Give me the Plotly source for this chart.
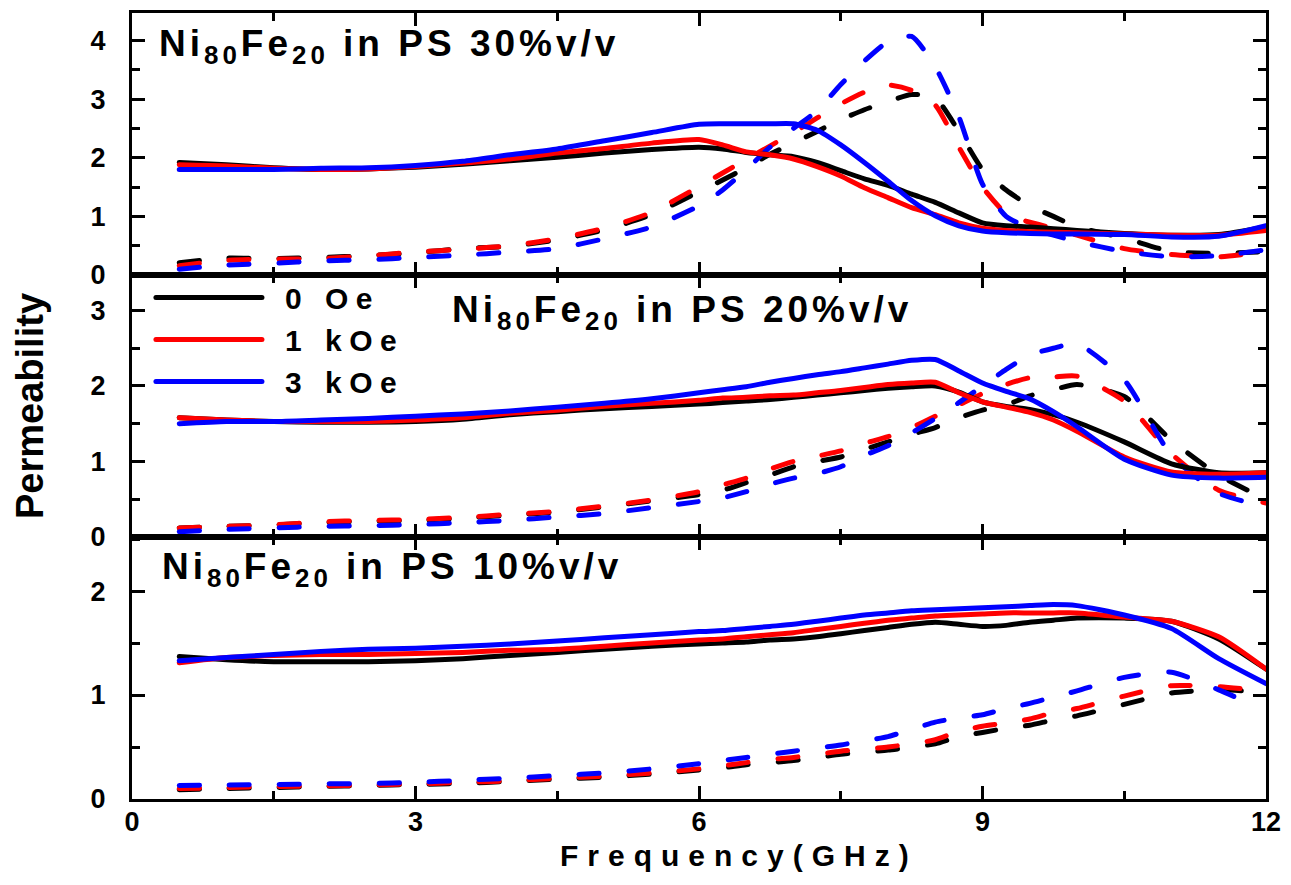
import plotly.graph_objects as go
from plotly.subplots import make_subplots

# ---------------- data ----------------
freq = [0.5, 1, 1.5, 2, 2.5, 3, 3.5, 4, 4.5, 5, 5.5, 6,
        6.25, 6.5, 6.75, 7, 7.25, 7.5, 7.75, 8, 8.25, 8.5, 8.75, 9,
        9.25, 9.5, 9.75, 10, 10.5, 11, 11.5, 12]
freq_10_imag = freq[:-1] + [11.75]

fields = ["0 Oe", "1 kOe", "3 kOe"]
field_colors = ["#000000", "#ff0000", "#0000ff"]

# Ni80Fe20 in PS 30 %v/v
re30_0 = [1.92, 1.88, 1.83, 1.80, 1.81, 1.84, 1.89, 1.95, 2.01, 2.08, 2.14, 2.18,
          2.15, 2.09, 2.05, 2.02, 1.92, 1.78, 1.64, 1.53, 1.38, 1.24, 1.06, 0.89,
          0.84, 0.82, 0.79, 0.76, 0.71, 0.68, 0.69, 0.82]
re30_1 = [1.88, 1.86, 1.82, 1.80, 1.81, 1.85, 1.91, 1.98, 2.08, 2.16, 2.25, 2.31,
          2.22, 2.10, 2.05, 1.98, 1.85, 1.69, 1.49, 1.32, 1.15, 1.03, 0.89, 0.80,
          0.76, 0.74, 0.73, 0.72, 0.70, 0.68, 0.68, 0.76]
re30_3 = [1.80, 1.80, 1.80, 1.82, 1.83, 1.87, 1.94, 2.05, 2.15, 2.29, 2.43, 2.57,
          2.58, 2.58, 2.58, 2.58, 2.47, 2.22, 1.92, 1.60, 1.27, 1.01, 0.84, 0.75,
          0.72, 0.71, 0.70, 0.70, 0.69, 0.65, 0.66, 0.84]
im30_0 = [0.21, 0.29, 0.28, 0.30, 0.33, 0.38, 0.45, 0.49, 0.60, 0.77, 1.03, 1.42,
          1.62, 1.83, 2.06, 2.25, 2.45, 2.65, 2.82, 2.96, 3.08, 3.02, 2.45, 1.80,
          1.45, 1.18, 1.00, 0.82, 0.63, 0.40, 0.37, 0.40]
im30_1 = [0.16, 0.25, 0.27, 0.28, 0.33, 0.39, 0.44, 0.50, 0.62, 0.80, 1.07, 1.51,
          1.74, 1.97, 2.20, 2.43, 2.68, 2.92, 3.12, 3.24, 3.15, 2.90, 2.18, 1.50,
          1.05, 0.90, 0.80, 0.68, 0.45, 0.35, 0.31, 0.40]
im30_3 = [0.10, 0.17, 0.20, 0.24, 0.26, 0.30, 0.34, 0.39, 0.45, 0.62, 0.82, 1.18,
          1.45, 1.80, 2.18, 2.50, 2.80, 3.25, 3.65, 3.98, 4.07, 3.55, 2.70, 1.55,
          1.00, 0.80, 0.68, 0.57, 0.40, 0.31, 0.33, 0.43]

# Ni80Fe20 in PS 20 %v/v
re20_0 = [1.58, 1.55, 1.53, 1.52, 1.52, 1.53, 1.56, 1.62, 1.66, 1.70, 1.73, 1.76,
          1.78, 1.80, 1.82, 1.85, 1.88, 1.91, 1.94, 1.97, 1.99, 2.00, 1.92, 1.79,
          1.73, 1.69, 1.62, 1.52, 1.26, 0.97, 0.85, 0.85]
re20_1 = [1.58, 1.55, 1.53, 1.53, 1.53, 1.55, 1.58, 1.64, 1.68, 1.73, 1.77, 1.81,
          1.84, 1.85, 1.87, 1.88, 1.91, 1.94, 1.98, 2.02, 2.04, 2.05, 1.91, 1.79,
          1.72, 1.65, 1.55, 1.40, 1.06, 0.86, 0.83, 0.85]
re20_3 = [1.50, 1.53, 1.53, 1.55, 1.57, 1.60, 1.63, 1.67, 1.72, 1.77, 1.83, 1.91,
          1.95, 1.99, 2.05, 2.10, 2.15, 2.19, 2.24, 2.29, 2.34, 2.35, 2.20, 2.04,
          1.93, 1.83, 1.66, 1.46, 1.03, 0.82, 0.78, 0.79]
im20_0 = [0.12, 0.14, 0.16, 0.19, 0.21, 0.22, 0.25, 0.29, 0.33, 0.40, 0.48, 0.56,
          0.62, 0.72, 0.82, 0.93, 1.00, 1.06, 1.16, 1.26, 1.36, 1.45, 1.58, 1.68,
          1.75, 1.87, 1.95, 2.02, 1.86, 1.28, 0.82, 0.50]
im20_1 = [0.12, 0.14, 0.16, 0.20, 0.22, 0.23, 0.26, 0.30, 0.34, 0.41, 0.49, 0.60,
          0.69, 0.78, 0.90, 1.00, 1.07, 1.14, 1.24, 1.33, 1.45, 1.60, 1.75, 1.90,
          2.02, 2.11, 2.12, 2.13, 1.80, 1.10, 0.62, 0.45]
im20_3 = [0.07, 0.10, 0.12, 0.14, 0.15, 0.165, 0.19, 0.22, 0.265, 0.31, 0.39, 0.47,
          0.52, 0.60, 0.70, 0.78, 0.84, 0.93, 1.08, 1.21, 1.38, 1.57, 1.78, 2.00,
          2.22, 2.41, 2.50, 2.56, 2.08, 1.08, 0.58, 0.40]

# Ni80Fe20 in PS 10 %v/v
re10_0 = [1.37, 1.34, 1.32, 1.32, 1.32, 1.33, 1.35, 1.38, 1.41, 1.44, 1.47, 1.49,
          1.50, 1.51, 1.53, 1.54, 1.56, 1.59, 1.62, 1.65, 1.68, 1.70, 1.68, 1.66,
          1.67, 1.70, 1.72, 1.74, 1.74, 1.71, 1.54, 1.25]
re10_1 = [1.31, 1.36, 1.38, 1.39, 1.39, 1.40, 1.41, 1.43, 1.44, 1.47, 1.50, 1.53,
          1.54, 1.56, 1.58, 1.60, 1.63, 1.66, 1.69, 1.72, 1.74, 1.76, 1.77, 1.78,
          1.79, 1.79, 1.79, 1.79, 1.75, 1.71, 1.56, 1.25]
re10_3 = [1.33, 1.36, 1.39, 1.42, 1.44, 1.45, 1.47, 1.49, 1.52, 1.55, 1.58, 1.61,
          1.62, 1.64, 1.66, 1.68, 1.71, 1.74, 1.77, 1.79, 1.81, 1.82, 1.83, 1.84,
          1.85, 1.86, 1.87, 1.86, 1.77, 1.64, 1.35, 1.11]
im10_0 = [0.09, 0.10, 0.11, 0.12, 0.13, 0.14, 0.15, 0.17, 0.19, 0.21, 0.24, 0.28,
          0.30, 0.33, 0.35, 0.37, 0.40, 0.43, 0.45, 0.47, 0.50, 0.53, 0.60, 0.64,
          0.68, 0.71, 0.76, 0.80, 0.91, 1.02, 1.05, 1.04]
im10_1 = [0.10, 0.11, 0.12, 0.125, 0.135, 0.145, 0.16, 0.175, 0.20, 0.22, 0.25, 0.29,
          0.32, 0.35, 0.38, 0.40, 0.43, 0.46, 0.48, 0.50, 0.53, 0.57, 0.65, 0.70,
          0.73, 0.77, 0.83, 0.87, 0.99, 1.09, 1.08, 1.06]
im10_3 = [0.13, 0.135, 0.14, 0.145, 0.15, 0.16, 0.18, 0.20, 0.225, 0.25, 0.29, 0.34,
          0.37, 0.40, 0.43, 0.46, 0.49, 0.52, 0.56, 0.60, 0.67, 0.74, 0.78, 0.81,
          0.87, 0.92, 0.98, 1.04, 1.17, 1.22, 1.05, 0.95]

panel_labels = ["Ni<sub>80</sub>Fe<sub>20</sub> in PS 30%v/v",
                "Ni<sub>80</sub>Fe<sub>20</sub> in PS 20%v/v",
                "Ni<sub>80</sub>Fe<sub>20</sub> in PS 10%v/v"]
y_ranges = [[0, 4.47], [0, 3.47], [0, 2.52]]
x_title = "Frequency(GHz)"
y_title = "Permeability"

panels = [
    (1, freq, [re30_0, re30_1, re30_3], freq, [im30_0, im30_1, im30_3]),
    (2, freq, [re20_0, re20_1, re20_3], freq, [im20_0, im20_1, im20_3]),
    (3, freq, [re10_0, re10_1, re10_3], freq_10_imag, [im10_0, im10_1, im10_3]),
]

FONT = "Liberation Sans, Arial, sans-serif"
LW = 5

fig = make_subplots(rows=3, cols=1, shared_xaxes=True, vertical_spacing=0)

for row, fr, reals, fi, imags in panels:
    for k in range(3):
        fig.add_trace(go.Scatter(
            x=fi, y=imags[k], mode="lines", name=fields[k],
            legendgroup=fields[k], showlegend=False,
            line=dict(color=field_colors[k], width=LW, dash="20px,30px",
                      shape="spline", smoothing=0.6)),
            row=row, col=1)
    for k in range(3):
        fig.add_trace(go.Scatter(
            x=fr, y=reals[k], mode="lines", name=fields[k],
            legendgroup=fields[k], showlegend=(row == 2),
            line=dict(color=field_colors[k], width=LW,
                      shape="spline", smoothing=0.6)),
            row=row, col=1)

axis_common = dict(showline=True, linewidth=3, linecolor="black", mirror="ticks",
                   ticks="inside", tickwidth=3, tickcolor="black", ticklen=13,
                   showgrid=False, zeroline=False)

for r in (1, 2, 3):
    fig.update_xaxes(row=r, col=1, range=[0, 12], tick0=0, dtick=3,
                     minor=dict(ticks="inside", ticklen=8, tickwidth=3,
                                tickcolor="black", dtick=1.5, tick0=0, showgrid=False),
                     showticklabels=(r == 3), ticklabelstandoff=-3,
                     tickfont=dict(size=27), **axis_common)
    fig.update_yaxes(row=r, col=1, range=y_ranges[r - 1], tick0=0, dtick=1,
                     minor=dict(ticks="inside", ticklen=8, tickwidth=3,
                                tickcolor="black", dtick=0.5, tick0=0, showgrid=False),
                     ticklabelstandoff=18, tickfont=dict(size=27), **axis_common)

fig.update_yaxes(row=2, col=1, title=dict(text=y_title, font=dict(size=38), standoff=36))

annotations = []
label_pos = [(0.0219, 0.958), (0.2807, 0.619), (0.0246, 0.293)]
for (ax, ay), txt in zip(label_pos, panel_labels):
    annotations.append(dict(text=txt, x=ax, y=ay, xref="paper", yref="paper",
                            xanchor="left", yanchor="middle", align="left",
                            showarrow=False, font=dict(size=37)))
annotations.append(dict(text=x_title, x=0.535, y=-0.072, xref="paper", yref="paper",
                        xanchor="center", yanchor="middle", showarrow=False,
                        font=dict(size=30)))

fig.update_layout(
    width=1291, height=885,
    margin=dict(l=132, r=19, t=10, b=86),
    paper_bgcolor="white", plot_bgcolor="white",
    font=dict(family=FONT, size=27, color="black", weight="bold"),
    annotations=annotations,
    showlegend=True,
    legend=dict(x=0.0167, y=0.671, xanchor="left", yanchor="top",
                bgcolor="rgba(0,0,0,0)", borderwidth=0, itemwidth=124,
                font=dict(size=30), tracegroupgap=0),
)

post = """
var gd = document.getElementById('{plot_id}');
function sp(sel, v){ gd.querySelectorAll(sel).forEach(function(t){ t.style.letterSpacing = v; }); }
sp('g.annotation[data-index="0"] text.annotation-text', '4px');
sp('g.annotation[data-index="1"] text.annotation-text', '4px');
sp('g.annotation[data-index="2"] text.annotation-text', '4px');
sp('g.annotation[data-index="3"] text.annotation-text', '9px');
sp('text.legendtext', '7.5px');
gd.querySelectorAll('g.legend g.scrollbox, g.legend').forEach(function(g){
  g.removeAttribute('clip-path'); });
gd.querySelectorAll('g.scatterlayer path.js-line').forEach(function(p){
  p.style.strokeLinecap = 'round'; p.style.strokeLinejoin = 'round'; });
gd.querySelectorAll('g.legend path.js-line').forEach(function(p){
  p.setAttribute('d', 'M5,0h106'); p.style.strokeLinecap = 'round'; });
"""

fig.write_html("out.html", config={"displayModeBar": False}, post_script=post)
